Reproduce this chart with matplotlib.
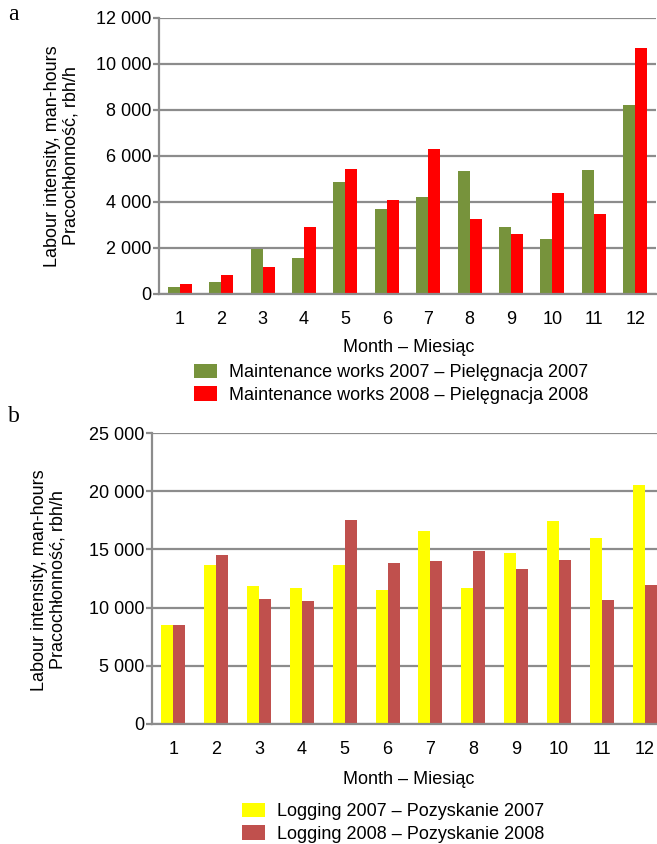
import matplotlib
matplotlib.use("Agg")
import matplotlib.pyplot as plt
from matplotlib.ticker import FuncFormatter, MultipleLocator
import numpy as np

plt.rcParams['font.family'] = ['Liberation Sans', 'DejaVu Sans']

months = [1, 2, 3, 4, 5, 6, 7, 8, 9, 10, 11, 12]
maint_2007 = [320, 510, 1940, 1580, 4860, 3700, 4230, 5350, 2910, 2390, 5380, 8230]
maint_2008 = [430, 830, 1190, 2910, 5430, 4090, 6320, 3280, 2620, 4380, 3460, 10700]
logging_2007 = [8490, 13670, 11880, 11650, 13670, 11480, 16600, 11650, 14730, 17460, 15970, 20540]
logging_2008 = [8490, 14560, 10760, 10560, 17520, 13810, 13980, 14900, 13290, 14070, 10620, 11910]

labels_a = ["Maintenance works 2007 – Pielęgnacja 2007", "Maintenance works 2008 – Pielęgnacja 2008"]
labels_b = ["Logging 2007 – Pozyskanie 2007", "Logging 2008 – Pozyskanie 2008"]
xlabel = "Month – Miesiąc"
ylabel = "Labour intensity, man-hours\nPracochłonność, rbh/h"

W, H = 657, 844
fig = plt.figure(figsize=(W / 100, H / 100), dpi=100)

GRID = '#8c8c8c'
FS = 13

def fmt(v, pos):
    return f"{int(round(v)):,}".replace(",", " ")

def style(ax, ymax, step):
    ax.set_ylim(0, ymax)
    ax.set_xlim(0.5, 12.5)
    ax.yaxis.set_major_locator(MultipleLocator(step))
    ax.yaxis.set_major_formatter(FuncFormatter(fmt))
    ax.set_xticks(months)
    ax.set_xticklabels([str(m) for m in months])
    for s in ['top', 'right']:
        ax.spines[s].set_visible(False)
    for s in ['left', 'bottom']:
        ax.spines[s].set_color(GRID)
        ax.spines[s].set_linewidth(1.6)
    ax.grid(axis='y', color=GRID, linewidth=1.6)
    ax.set_axisbelow(True)
    ax.tick_params(axis='y', length=4.5, width=1.6, color=GRID, pad=1, labelsize=FS)
    ax.tick_params(axis='x', length=0, pad=12, labelsize=FS)

x = np.array(months)

# Panel a
axa = fig.add_axes([159 / W, 1 - 294 / H, (656 - 159) / W, (294 - 18) / H])
wa = 0.29
axa.bar(x - wa / 2, maint_2007, width=wa, color='#77933C', label=labels_a[0])
axa.bar(x + wa / 2, maint_2008, width=wa, color='#FF0000', label=labels_a[1])
style(axa, 12000, 2000)

# Panel b
axb = fig.add_axes([152 / W, 1 - 724 / H, (666 - 152) / W, (724 - 433) / H])
wb = 0.28
axb.bar(x - wb / 2, logging_2007, width=wb, color='#FFFF00', label=labels_b[0])
axb.bar(x + wb / 2, logging_2008, width=wb, color='#C0504D', label=labels_b[1])
style(axb, 25000, 5000)

# axis titles
fig.text(409 / W, 1 - 348 / H, xlabel, ha='center', va='center', fontsize=FS)
fig.text(409 / W, 1 - 780 / H, xlabel, ha='center', va='center', fontsize=FS)
fig.text(62 / W, 1 - 156 / H, ylabel, ha='center', va='center', rotation=90,
         fontsize=FS, multialignment='center', linespacing=1.12)
fig.text(49 / W, 1 - 580 / H, ylabel, ha='center', va='center', rotation=90,
         fontsize=FS, multialignment='center', linespacing=1.12)

# panel letters
fig.text(8 / W, 1 - 20 / H, "a", fontsize=17, family=['Liberation Serif'], va='baseline')
fig.text(8 / W, 1 - 422 / H, "b", fontsize=17, family=['Liberation Serif'], va='baseline')

# legends
def legend(ax, left, top):
    h, l = ax.get_legend_handles_labels()
    fig.legend(h, l, loc='upper left', bbox_to_anchor=(left / W, 1 - top / H),
               frameon=False, fontsize=FS, borderpad=0, borderaxespad=0,
               handlelength=1.28, handleheight=0.83, handletextpad=0.65,
               labelspacing=0.28)

legend(axa, 194, 364)
legend(axb, 242, 803)

fig.savefig("out.png", dpi=100)
